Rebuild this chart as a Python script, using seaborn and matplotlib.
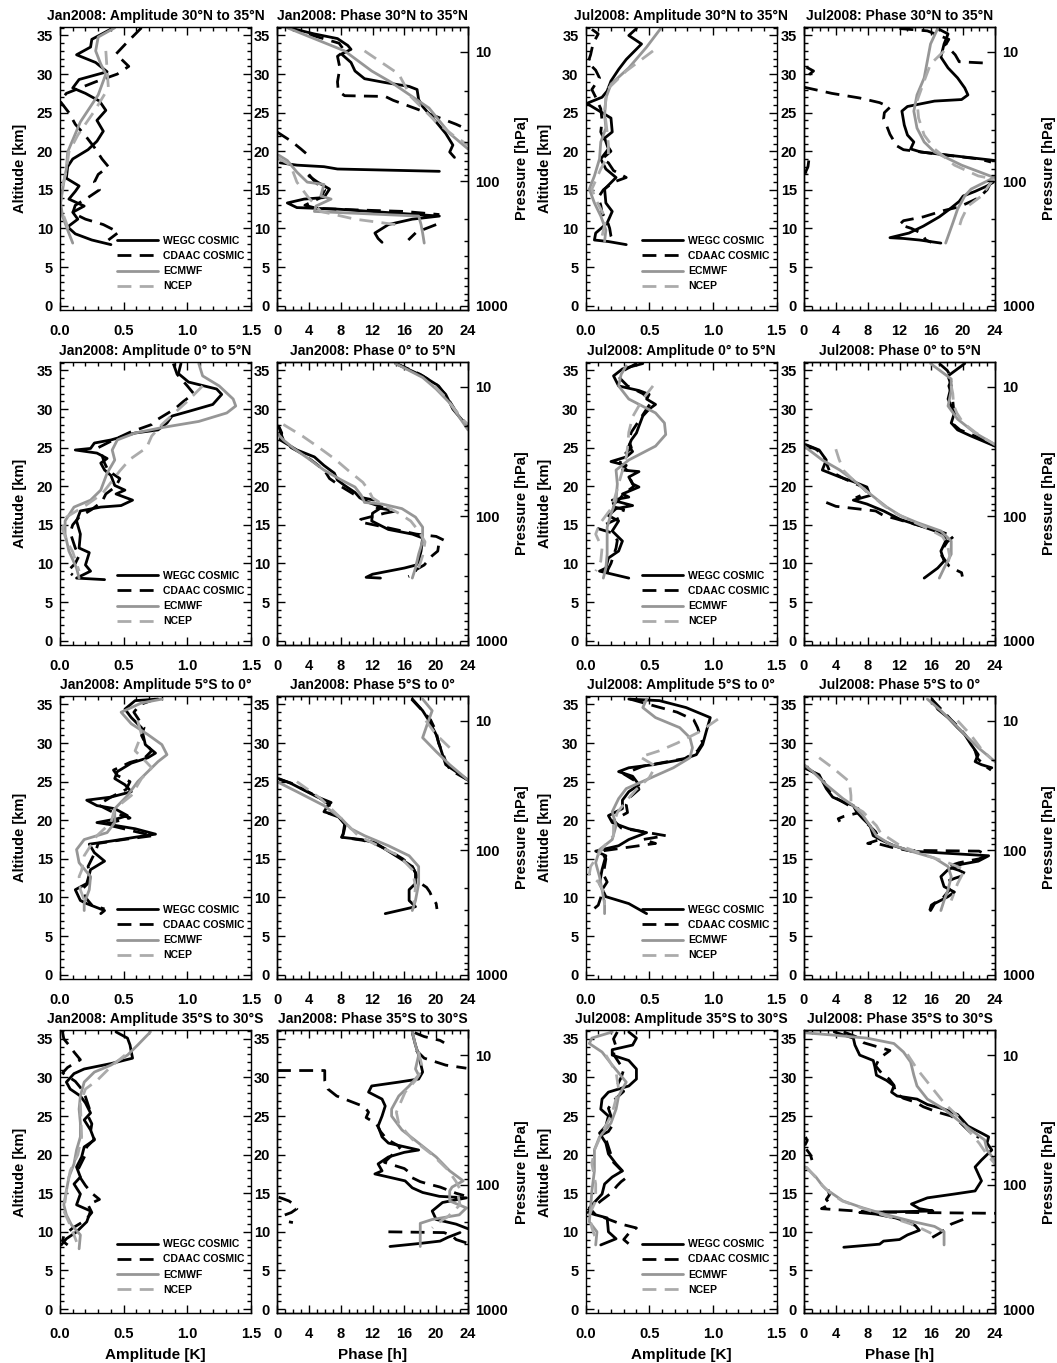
import numpy as np
import pandas as pd
import matplotlib
matplotlib.use("Agg")
import matplotlib.pyplot as plt
from matplotlib.lines import Line2D
from matplotlib.ticker import MultipleLocator, FixedLocator, FixedFormatter, FormatStrFormatter
import seaborn as sns

# Diurnal tide profiles: (altitude km, value) pairs, None = gap in the profile.
BRK = None

# ---------------- January 2008, 30N-35N ----------------
JAN_N30_AMP_WEGC = [(36.0,0.42),(34.5,0.25),(33.5,0.24),(32.5,0.13),(31.5,0.28),(30.3,0.37),(29.3,0.15),(28.2,0.10),(27.5,0.20),(26.5,0.31),(25.3,0.36),(24.0,0.29),(22.6,0.34),(21.3,0.29),(20.2,0.22),(19.0,0.10),(18.0,0.06),(16.5,0.05),(15.5,0.15),(14.8,0.12),(13.8,0.07),(12.9,0.19),(12.1,0.10),(11.2,0.14),(10.2,0.06),(9.3,0.12),(8.5,0.25),(7.9,0.40)]
JAN_N30_AMP_CDAAC = [(36.0,0.64),(34.0,0.52),(32.6,0.44),(31.0,0.54),(30.0,0.45),(29.0,0.28),(27.5,0.05),(26.5,0.0),(25.0,0.07),(23.5,0.12),(22.0,0.20),(20.5,0.27),(19.0,0.33),(18.0,0.38),(17.0,0.30),(16.0,0.27),(15.0,0.31),(14.0,0.22),(13.0,0.12),(12.0,0.10),(11.2,0.20),(10.5,0.34),(9.5,0.46),(8.5,0.38)]
JAN_N30_AMP_ECMWF = [(36.0,0.43),(34.8,0.30),(33.0,0.28),(31.3,0.32),(30.0,0.36),(27.3,0.30),(23.8,0.16),(19.9,0.06),(17.7,0.05),(16.0,0.03),(13.3,0.005),(11.6,0.02),(9.8,0.06),(8.1,0.10)]
JAN_N30_AMP_NCEP = [(33.0,0.36),(30.5,0.37),(28.2,0.38),(25.2,0.27),(22.1,0.14),(19.9,0.07),(17.5,0.05),(15.5,0.02),(12.9,0.0),(10.7,0.05),(9.0,0.08)]

JAN_N30_PHS_WEGC = [(36.0,1.5),(35.2,4.7),(34.6,7.6),(33.7,8.9),(33.2,9.3),(32.6,8.1),(31.5,9.3),(30.4,9.8),(29.4,11.0),(28.9,13.6),(28.4,16.6),(28.0,17.6),(26.7,17.8),(25.8,18.3),(23.8,20.0),(22.3,21.2),(20.8,22.1),(19.9,21.7),(19.2,22.3),BRK,(18.5,0.4),(18.2,2.5),(18.0,5.9),(17.7,7.6),(17.4,20.4),BRK,(16.8,4.0),(16.0,5.1),(15.1,6.6),(14.0,5.9),(13.8,3.4),(13.3,1.3),(12.7,2.5),(12.5,7.6),(11.6,20.4),(11.2,17.0),(10.5,14.0),(9.4,12.3),(8.7,12.7),(8.2,13.2)]
JAN_N30_PHS_CDAAC = [(36.0,1.5),(35.0,4.5),(34.0,7.8),(33.0,8.5),(32.3,7.6),(30.8,7.9),(29.0,7.6),(27.8,7.7),(27.2,8.5),(27.1,13.6),(26.6,14.6),(25.5,17.5),(24.5,20.0),(23.5,22.5),(22.8,24.0),BRK,(22.5,0.0),(21.3,1.8),(20.3,3.0),(19.5,3.9),BRK,(17.0,4.0),(16.0,4.8),(15.0,6.0),(14.0,5.5),(13.0,3.5),(12.6,5.0),(12.4,10.0),(12.2,16.0),(11.8,20.4),BRK,(10.5,20.0),(9.5,17.5),(8.5,16.5)]
JAN_N30_PHS_ECMWF = [(36.0,1.3),(33.0,8.5),(30.4,11.9),(28.9,14.4),(25.6,19.1),(22.3,21.7),(20.3,24.0),BRK,(19.5,0.2),(18.8,1.3),(17.3,2.5),(16.0,3.8),(15.7,5.9),(14.2,5.5),(13.8,6.8),(12.9,4.9),(12.2,4.7),(11.6,17.8),(10.5,18.1),(9.4,18.3),(8.1,18.5)]
JAN_N30_PHS_NCEP = [(33.0,11.0),(30.0,15.3),(27.1,16.8),(23.8,20.0),(22.1,22.1),(20.8,24.0),BRK,(19.2,0.0),(18.2,1.7),(16.0,2.5),(14.2,3.8),(12.2,5.5),(11.2,9.8),(10.5,14.9),(10.2,15.5)]

# ---------------- July 2008, 30N-35N ----------------
JUL_N30_AMP_WEGC = [(35.9,0.40),(35.0,0.34),(33.9,0.44),(31.9,0.32),(30.6,0.26),(29.1,0.20),(27.8,0.17),(27.0,0.13),(26.2,0.01),(25.2,0.11),(24.3,0.20),(22.5,0.21),(21.7,0.15),(20.3,0.18),(19.0,0.12),(17.7,0.16),(16.6,0.24),(15.1,0.15),(13.3,0.16),(12.2,0.21),(10.7,0.17),(9.4,0.08),(8.5,0.07),(8.3,0.18),(7.9,0.32)]
JUL_N30_AMP_CDAAC = [(35.8,0.05),(35.2,0.10),(34.0,0.06),(32.5,0.04),(31.5,0.02),(30.5,0.08),(29.5,0.11),(28.0,0.05),(27.0,0.08),(25.5,0.12),(24.0,0.13),(22.5,0.12),(21.0,0.16),(20.0,0.20),(19.0,0.13),(18.5,0.18),(17.5,0.22),(16.6,0.32),(16.0,0.22),(15.0,0.14),(14.0,0.10),(13.0,0.12),(12.0,0.13),(11.0,0.17),(10.0,0.19),(9.0,0.20),(8.3,0.22)]
JUL_N30_AMP_ECMWF = [(35.9,0.59),(33.5,0.48),(30.8,0.34),(28.7,0.20),(26.9,0.16),(24.7,0.15),(23.0,0.16),(21.2,0.12),(19.0,0.11),(16.8,0.07),(15.1,0.03),(13.3,0.07),(11.6,0.12),(9.8,0.16),(8.3,0.15)]
JUL_N30_AMP_NCEP = [(33.0,0.53),(30.4,0.32),(28.0,0.17),(25.2,0.15),(22.5,0.17),(20.8,0.18),(19.5,0.18),(17.7,0.12),(15.1,0.05),(13.8,0.08),(11.2,0.16),(9.0,0.13),(8.5,0.16)]

JUL_N30_PHS_WEGC = [(35.9,16.8),(35.2,18.1),(33.9,17.6),(32.2,17.2),(30.8,18.1),(29.5,19.3),(28.2,20.2),(27.3,20.6),(26.7,19.8),(26.5,16.4),(25.8,13.0),(25.2,12.3),(23.4,12.6),(22.1,13.0),(21.2,13.8),(20.3,13.4),(19.9,14.7),(18.8,24.0),BRK,(16.0,23.8),(15.5,23.0),(14.8,21.5),(14.2,20.0),(13.5,19.5),(12.5,18.3),(11.5,17.0),(10.3,15.0),(9.4,13.2),(8.8,10.8),(8.7,12.5),(8.5,14.5),(8.1,17.2)]
JUL_N30_PHS_CDAAC = [(35.9,12.0),(35.6,15.5),(34.5,18.2),(33.8,17.8),(32.5,19.0),(31.6,19.5),(31.4,23.3),BRK,(30.9,0.3),(30.4,1.2),(29.8,0.5),BRK,(28.3,0.0),(27.5,3.5),(26.9,7.0),(26.3,9.5),(25.7,10.8),(25.0,10.1),(24.2,10.0),(23.0,10.5),(22.2,10.8),(21.5,11.2),(20.8,11.5),(20.2,12.5),(19.6,17.0),(19.0,22.0),(18.6,23.5),BRK,(18.8,0.6),(18.0,0.5),(17.3,0.2),(16.5,0.4),BRK,(16.0,23.5),(15.0,23.0),(14.0,22.0),(13.5,21.0),(12.8,19.5),(12.3,17.5),(11.5,15.0),(11.0,12.5),(10.5,12.0),(10.0,13.5),(9.5,14.5),(9.0,15.0),(8.5,15.3),(8.2,16.0)]
JUL_N30_PHS_ECMWF = [(35.9,16.8),(33.9,15.9),(31.7,15.5),(29.5,15.1),(27.3,14.2),(25.2,13.8),(23.0,14.2),(21.2,15.1),(19.9,16.4),(18.2,19.8),(16.6,23.9),(15.1,21.0),(14.2,20.2),(12.5,19.3),(10.7,18.7),(8.1,17.8)]
JUL_N30_PHS_NCEP = [(33.0,17.6),(31.3,15.9),(29.1,15.1),(26.5,14.2),(24.3,14.4),(22.1,15.1),(20.3,16.4),(18.2,18.9),(16.8,21.9),(16.4,23.8),(14.2,22.3),(12.9,20.6),(11.2,19.8),(9.5,19.3)]

# ---------------- January 2008, 0-5N ----------------
JAN_N00_AMP_WEGC = [(35.9,0.95),(34.6,0.93),(33.5,1.01),(32.6,1.23),(31.9,1.27),(30.6,1.20),(29.7,1.01),(29.1,0.88),(28.2,0.84),(27.3,0.77),(26.9,0.59),(26.0,0.40),(25.6,0.27),(24.9,0.24),(24.7,0.12),(24.3,0.29),(23.6,0.37),(23.0,0.32),(22.1,0.35),(21.4,0.40),(20.1,0.43),(19.5,0.51),(19.0,0.44),(18.2,0.57),(17.5,0.48),(17.3,0.32),(16.8,0.16),(15.5,0.13),(13.8,0.16),(12.0,0.15),(11.4,0.23),(9.8,0.20),(9.0,0.24),(8.1,0.13),(7.9,0.35)]
JAN_N00_AMP_CDAAC = [(35.9,0.89),(34.5,0.92),(33.0,1.0),(32.0,1.05),(31.0,0.97),(30.0,0.90),(29.0,0.80),(28.5,0.75),(28.0,0.72),(27.0,0.55),(26.0,0.42),(25.0,0.30),(24.0,0.33),(23.0,0.35),(22.0,0.38),(21.0,0.47),(20.0,0.44),(19.0,0.36),(18.0,0.33),(17.0,0.25),(16.0,0.15),(15.0,0.10),(14.0,0.08),(13.0,0.10),(12.0,0.12),(11.0,0.15),(10.0,0.12),(9.0,0.06),(8.5,0.10)]
JAN_N00_AMP_ECMWF = [(35.9,1.09),(34.3,1.12),(33.0,1.25),(31.3,1.36),(30.4,1.38),(29.5,1.31),(28.4,1.09),(27.6,0.80),(26.9,0.59),(26.0,0.45),(24.7,0.41),(23.4,0.43),(21.7,0.37),(19.5,0.32),(18.2,0.24),(17.3,0.11),(15.5,0.04),(13.8,0.04),(11.6,0.07),(9.4,0.13),(8.1,0.15)]
JAN_N00_AMP_NCEP = [(33.0,1.12),(31.0,1.0),(29.5,0.90),(28.0,0.80),(26.5,0.72),(25.0,0.68),(23.5,0.55),(22.0,0.47),(20.5,0.40),(19.0,0.33),(17.5,0.20),(16.0,0.05),(14.5,0.02),(13.0,0.05),(11.5,0.10),(10.0,0.13),(9.0,0.15)]

JAN_N00_PHS_WEGC = [(35.9,14.9),(34.3,18.3),(33.2,20.0),(31.9,21.2),(30.0,22.1),(28.4,23.4),(27.8,24.0),BRK,(27.8,0.2),(26.9,0.6),(26.0,0.4),(24.7,2.5),(23.8,4.7),(22.7,5.9),(21.7,7.2),(20.8,7.6),(20.1,8.5),(19.2,9.8),(18.5,10.4),(17.9,11.5),(17.3,13.2),(16.5,12.0),(15.5,11.9),(14.4,14.0),(13.8,17.0),(13.3,18.3),(11.6,18.1),(10.3,17.8),(9.8,17.5),(9.4,16.0),(9.0,14.0),(8.6,12.0),(8.2,11.2),(8.1,13.0)]
JAN_N00_PHS_CDAAC = [(35.9,15.0),(34.5,18.0),(33.0,20.3),(31.5,21.4),(30.0,22.3),(28.5,23.3),(27.8,24.0),BRK,(27.6,0.3),(26.8,0.5),(26.0,0.8),(25.0,1.8),(24.2,3.2),(23.0,4.8),(22.0,6.0),(21.0,6.6),(20.0,8.0),(19.0,9.6),(18.5,10.8),(18.2,12.2),(17.6,12.0),(17.2,12.6),(16.8,15.0),(16.5,13.5),(15.7,10.5),(15.4,10.3),(14.6,14.0),(13.8,17.5),(13.5,20.0),(13.0,21.0),(12.3,20.3),(11.6,20.2),(11.0,19.5),(10.4,19.0),(9.8,18.5),(9.2,17.5),(8.6,17.2),(8.3,16.5)]
JAN_N00_PHS_ECMWF = [(35.9,14.9),(34.1,18.3),(32.6,20.0),(30.8,21.7),(27.3,24.0),BRK,(26.9,0.0),(26.0,0.8),(24.9,2.1),(23.4,4.2),(22.1,5.9),(20.8,8.1),(19.9,9.8),(18.8,10.6),(17.9,11.0),(17.7,13.2),(17.1,15.7),(16.0,17.4),(14.7,18.3),(12.9,18.3),(11.2,17.8),(9.4,17.4),(8.1,17.0)]
JAN_N00_PHS_NCEP = [(33.0,19.8),(31.5,21.2),(30.0,22.3),(28.5,23.5),(28.0,24.0),BRK,(28.0,0.8),(26.5,3.2),(25.0,5.3),(23.5,7.3),(22.0,9.0),(20.5,10.8),(19.5,11.5),(18.5,12.0),(17.5,13.5),(16.5,15.3),(15.5,16.8),(14.2,17.8),(12.8,18.6),(11.0,18.3),(9.4,17.8)]

# ---------------- July 2008, 0-5N ----------------
JUL_N00_AMP_WEGC = [(35.9,0.45),(35.2,0.29),(34.3,0.22),(33.0,0.26),(32.4,0.42),(31.9,0.50),(31.3,0.48),(30.6,0.55),(30.0,0.50),(29.1,0.45),(27.8,0.42),(26.9,0.40),(26.0,0.36),(25.2,0.34),(24.5,0.37),(23.8,0.32),(23.2,0.20),(22.7,0.32),(22.1,0.29),(21.9,0.42),(21.2,0.34),(20.3,0.37),(19.9,0.42),(19.0,0.29),(18.6,0.34),(18.2,0.21),(17.5,0.37),(17.1,0.24),(16.2,0.18),(15.5,0.26),(14.2,0.21),(12.9,0.29),(11.6,0.26),(10.7,0.18),(9.4,0.16),(9.0,0.11),(8.1,0.34)]
JUL_N00_AMP_CDAAC = [(35.9,0.40),(35.0,0.30),(34.0,0.27),(33.0,0.33),(32.0,0.45),(31.0,0.52),(30.0,0.48),(29.0,0.44),(28.0,0.40),(27.0,0.36),(26.0,0.34),(25.0,0.36),(24.0,0.30),(23.0,0.27),(22.0,0.33),(21.0,0.35),(20.0,0.38),(19.0,0.30),(18.0,0.25),(17.5,0.18),(17.0,0.30),(16.0,0.28),(15.0,0.15),(14.5,0.10),(14.0,0.20),(13.0,0.25),(12.0,0.24),(11.0,0.22),(10.0,0.20),(9.0,0.17),(8.3,0.22)]
JUL_N00_AMP_ECMWF = [(35.6,0.32),(34.5,0.28),(33.0,0.26),(31.3,0.34),(29.5,0.55),(28.2,0.62),(26.7,0.63),(25.2,0.55),(23.4,0.34),(22.1,0.24),(20.3,0.25),(18.2,0.24),(16.4,0.20),(14.7,0.17),(12.9,0.17),(11.2,0.17),(9.4,0.16),(8.1,0.14)]
JUL_N00_AMP_NCEP = [(33.0,0.53),(31.3,0.45),(29.0,0.37),(27.0,0.34),(25.0,0.33),(23.8,0.32),(22.0,0.29),(20.3,0.26),(17.3,0.21),(15.1,0.11),(13.8,0.08),(12.0,0.13),(10.3,0.12),(9.0,0.08)]

JUL_N00_PHS_WEGC = [(35.9,20.2),(34.3,18.1),(33.0,18.5),(31.3,18.1),(29.5,18.9),(28.2,18.5),(27.3,19.3),(26.5,21.0),(25.2,24.0),BRK,(25.4,0.2),(24.7,1.9),(23.4,2.8),(22.1,2.3),(21.2,4.5),(20.6,6.2),(19.9,7.9),(18.8,8.3),(18.2,6.2),(17.7,7.9),(16.8,10.0),(15.7,12.1),(14.7,15.1),(13.8,17.6),(12.9,17.8),(11.6,17.2),(10.3,17.6),(9.4,16.8),(8.1,15.1)]
JUL_N00_PHS_CDAAC = [(35.9,17.0),(35.0,18.0),(34.0,18.6),(33.0,18.2),(32.0,18.5),(31.0,18.7),(30.0,18.8),(29.0,19.0),(28.0,18.8),(27.3,19.6),(26.5,21.5),(25.5,23.5),(25.2,24.0),BRK,(25.3,0.3),(24.8,1.5),(24.0,2.5),(23.0,2.8),(22.0,3.2),(21.0,5.0),(20.0,7.2),(19.2,8.0),(18.5,6.5),BRK,(17.9,2.8),(17.4,4.0),(16.8,9.0),(16.2,10.0),(15.8,11.5),(15.2,13.5),(14.5,16.0),(14.0,17.5),(13.5,18.8),(12.8,18.0),(12.0,17.5),(11.0,17.3),(10.3,17.8),(9.7,18.2),(9.2,19.0),(8.8,19.8),(8.3,19.9)]
JUL_N00_PHS_ECMWF = [(35.9,15.9),(33.9,18.5),(32.4,18.5),(30.4,18.1),(28.7,19.3),(26.9,21.5),(25.4,24.0),BRK,(25.2,0.0),(23.4,2.3),(22.1,4.5),(20.8,6.2),(19.0,8.3),(17.3,10.4),(16.2,12.1),(15.3,14.2),(14.2,17.2),(12.9,18.5),(11.2,18.5),(9.4,17.6),(8.1,17.0)]
JUL_N00_PHS_NCEP = [(33.0,18.5),(32.0,18.7),(30.5,18.8),(29.5,19.2),(28.2,20.0),(27.0,21.5),(26.0,23.0),(25.4,24.0),BRK,(24.8,4.0),(23.5,4.4),(22.0,5.0),(20.5,6.5),(19.0,8.3),(17.5,10.0),(16.5,11.5),(15.5,13.5),(14.8,15.0),(14.0,16.5),(13.5,17.4),(12.5,18.0),(11.0,18.3),(9.5,18.0)]

# ---------------- January 2008, 5S-0 ----------------
JAN_S05_AMP_WEGC = [(35.7,0.77),(35.5,0.59),(34.4,0.51),(33.3,0.56),(32.0,0.64),(29.8,0.67),(28.7,0.75),(28.1,0.69),(27.4,0.56),(26.3,0.45),(25.4,0.43),(24.6,0.51),(23.7,0.56),(23.0,0.40),(22.6,0.21),(21.9,0.29),(21.5,0.43),(20.6,0.53),(20.2,0.45),(19.7,0.29),(19.5,0.37),(18.9,0.59),(18.2,0.75),(17.8,0.59),(17.3,0.40),(16.9,0.23),(15.8,0.27),(14.7,0.35),(13.6,0.24),(11.8,0.21),(11.0,0.12),(9.6,0.16),(9.2,0.21),(8.3,0.35),(7.9,0.32)]
JAN_S05_AMP_CDAAC = [(35.7,0.75),(35.0,0.63),(34.0,0.58),(33.0,0.62),(32.0,0.66),(31.0,0.64),(30.0,0.67),(29.0,0.72),(28.0,0.66),(27.5,0.55),(26.5,0.42),(25.8,0.45),(25.0,0.55),(24.0,0.52),(23.0,0.40),(22.0,0.30),(21.0,0.42),(20.3,0.55),(19.5,0.35),(18.5,0.60),(18.0,0.73),(17.5,0.50),(17.0,0.30),(16.0,0.28),(15.0,0.25),(14.0,0.22),(13.0,0.24),(12.0,0.23),(11.0,0.17),(10.0,0.20),(9.0,0.25),(8.5,0.35)]
JAN_S05_AMP_ECMWF = [(35.7,0.80),(35.2,0.64),(34.0,0.48),(32.5,0.56),(31.1,0.69),(29.8,0.80),(28.5,0.84),(27.6,0.77),(26.3,0.69),(25.0,0.61),(23.2,0.53),(21.5,0.43),(19.7,0.43),(18.4,0.37),(17.5,0.19),(16.2,0.13),(14.5,0.15),(12.7,0.24),(11.0,0.23),(9.2,0.19),(8.3,0.19)]
JAN_S05_AMP_NCEP = [(32.9,0.61),(31.1,0.64),(29.0,0.59),(27.5,0.68),(26.8,0.72),(25.4,0.64),(23.2,0.56),(21.5,0.43),(19.7,0.40),(18.0,0.29),(15.4,0.19),(13.5,0.17),(12.7,0.15),(11.0,0.16),(9.2,0.20)]

JAN_S05_PHS_WEGC = [(35.7,17.0),(34.2,18.3),(32.9,19.1),(31.1,20.0),(29.8,20.4),(28.5,20.8),(27.2,21.2),(26.3,22.5),(25.2,24.0),BRK,(25.4,0.2),(24.8,1.7),(23.9,3.4),(23.0,5.1),(22.3,6.8),(21.9,6.4),(21.1,5.9),(20.6,7.6),(19.5,8.5),(18.2,8.3),(17.8,8.1),(17.5,10.6),(17.1,12.3),(16.0,14.0),(14.9,15.7),(14.0,17.0),(13.2,17.4),(11.8,17.4),(11.0,16.6),(9.6,16.6),(8.8,17.4),(7.9,13.6)]
JAN_S05_PHS_CDAAC = [(35.7,16.9),(34.5,18.0),(33.0,19.3),(31.5,20.0),(30.0,20.3),(28.5,20.9),(27.3,21.3),(26.5,21.8),(25.5,23.5),(25.2,24.0),BRK,(25.3,0.3),(24.8,1.8),(24.0,3.3),(23.0,5.2),(22.0,6.6),(21.0,6.2),(20.4,7.8),(19.5,8.6),(18.5,8.4),(17.8,8.2),(17.4,10.8),(17.0,12.2),(16.0,14.2),(15.0,15.8),(14.0,17.0),(13.0,17.5),(12.0,17.8),(11.3,18.8),(10.7,19.2),(10.0,19.5),(9.2,20.0),(8.5,20.1)]
JAN_S05_PHS_ECMWF = [(35.7,18.3),(34.2,19.5),(32.5,18.9),(30.7,18.3),(28.9,20.0),(27.2,21.7),(25.2,24.0),BRK,(25.0,0.0),(23.7,2.5),(21.9,5.9),(20.2,8.1),(18.9,9.3),(18.0,11.0),(16.7,14.0),(15.4,16.6),(14.0,17.8),(11.8,17.8),(9.6,17.4),(8.3,17.0)]
JAN_S05_PHS_NCEP = [(32.9,18.7),(31.1,20.0),(29.4,21.7),BRK,(25.0,2.5),(22.8,5.5),(20.2,8.1),(18.0,10.2),(16.7,12.7),(15.4,15.3),(13.6,17.0),(11.4,17.4),(9.2,17.2)]

# ---------------- July 2008, 5S-0 ----------------
JUL_S05_AMP_WEGC = [(35.7,0.34),(35.5,0.58),(34.6,0.79),(33.3,0.98),(31.6,0.95),(29.8,0.92),(28.5,0.87),(27.9,0.77),(27.2,0.53),(26.8,0.34),(26.3,0.26),(25.7,0.37),(24.6,0.42),(23.7,0.34),(22.6,0.29),(21.5,0.29),(20.6,0.18),(19.7,0.21),(18.9,0.34),(18.4,0.48),(17.5,0.34),(16.7,0.26),(16.0,0.08),(15.4,0.16),(13.6,0.13),(11.8,0.11),(10.1,0.16),(9.2,0.34),(7.9,0.48)]
JUL_S05_AMP_CDAAC = [(35.7,0.35),(35.0,0.50),(34.0,0.72),(33.0,0.85),(32.0,0.88),(31.0,0.90),(30.0,0.92),(29.0,0.88),(28.0,0.78),(27.0,0.45),(26.0,0.30),(25.0,0.40),(24.0,0.42),(23.0,0.35),(22.0,0.32),(21.0,0.33),(20.0,0.22),(19.0,0.28),(18.0,0.63),(17.5,0.45),(17.0,0.55),(16.0,0.12),(15.0,0.16),(14.0,0.15),(13.0,0.14),(12.0,0.17),(11.0,0.13),(10.0,0.12),(9.0,0.10),(8.3,0.05)]
JUL_S05_AMP_ECMWF = [(35.7,0.48),(34.6,0.45),(33.3,0.55),(32.0,0.74),(30.7,0.82),(29.4,0.84),(28.1,0.82),(26.8,0.69),(25.4,0.50),(24.1,0.32),(22.8,0.26),(21.1,0.21),(19.3,0.24),(17.5,0.21),(16.2,0.11),(14.5,0.08),(12.7,0.11),(11.0,0.13),(9.2,0.15),(7.9,0.15)]
JUL_S05_AMP_NCEP = [(33.1,1.04),(31.5,0.90),(30.0,0.72),(29.0,0.58),(28.2,0.43),(27.0,0.55),(25.5,0.50),(24.0,0.40),(22.5,0.32),(21.0,0.25),(19.5,0.22),(18.0,0.22),(16.5,0.14),(15.0,0.08),(14.0,0.04),(13.0,0.03),(12.0,0.10),(10.5,0.15),(9.0,0.15)]

JUL_S05_PHS_WEGC = [(35.7,16.1),(34.4,16.8),(33.3,18.1),(32.0,19.3),(31.1,20.2),(29.8,21.0),(28.5,21.9),(27.6,21.5),(27.2,22.3),(26.8,23.6),BRK,(26.8,0.0),(25.9,1.9),(24.1,2.8),(23.0,3.6),(22.4,4.9),(21.9,6.2),(21.1,6.6),(20.2,7.4),(19.3,8.3),(18.0,8.7),(17.5,9.6),(16.7,11.3),(16.0,13.4),(15.4,23.2),(14.7,21.9),(14.3,19.8),(13.6,18.1),(12.7,17.2),(11.4,17.6),(10.7,18.9),(10.1,18.1),(9.2,16.4),(8.3,15.9)]
JUL_S05_PHS_CDAAC = [(35.7,16.0),(35.2,16.5),(34.0,17.6),(33.0,18.5),(32.0,19.5),(31.0,20.3),(30.0,21.0),(29.0,21.5),(28.0,21.8),(27.0,22.8),(26.5,23.5),BRK,(26.9,0.2),(26.0,1.5),(25.0,2.5),(24.0,3.0),(23.0,3.8),(22.0,5.5),(21.5,6.8),(21.0,7.0),(20.5,5.0),(20.2,4.3),(19.8,4.5),BRK,(19.5,8.0),(18.5,9.0),(17.5,9.5),(17.0,8.0),(16.9,9.5),(16.5,11.0),(16.1,13.0),(16.0,22.0),(15.5,23.0),(15.0,22.0),(14.5,19.5),(14.0,18.0),(13.5,19.5),(13.0,20.5),(12.5,19.0),(12.0,17.8),(11.0,18.3),(10.0,17.5),(9.0,16.0),(8.3,15.8)]
JUL_S05_PHS_ECMWF = [(35.7,15.5),(34.2,17.2),(32.5,18.9),(30.7,20.6),(29.4,21.9),(27.6,24.0),BRK,(27.2,0.0),(26.3,1.1),(24.6,2.8),(22.8,4.9),(21.9,6.2),(20.6,7.4),(19.3,8.3),(18.0,9.1),(16.9,10.8),(16.0,13.4),(15.1,16.4),(14.0,18.1),(12.7,18.5),(11.0,18.1),(9.6,17.6),(8.3,17.2)]
JUL_S05_PHS_NCEP = [(32.9,19.3),(31.0,21.0),(29.2,22.3),(28.0,23.5),BRK,(28.1,1.9),(26.8,3.6),(25.0,5.7),(23.2,5.9),(22.0,5.9),(21.1,7.4),(19.3,9.1),(18.4,9.6),(16.7,12.1),(15.4,15.5),(14.5,18.1),(13.6,20.2),(11.8,19.3),(9.6,18.5)]

# ---------------- January 2008, 35S-30S ----------------
JAN_S35_AMP_WEGC = [(35.9,0.44),(35.1,0.53),(34.2,0.55),(33.3,0.56),(32.5,0.57),(31.8,0.40),(31.1,0.19),(30.5,0.11),(29.4,0.05),(28.5,0.08),(27.6,0.16),(26.7,0.20),(25.4,0.24),(24.5,0.19),(23.2,0.24),(21.9,0.27),(21.0,0.19),(19.7,0.17),(18.4,0.13),(17.1,0.16),(16.2,0.11),(14.9,0.16),(13.5,0.13),(12.7,0.24),(11.3,0.21),(10.0,0.13),(9.1,0.05),(8.3,0.01)]
JAN_S35_AMP_CDAAC = [(35.9,0.02),(35.0,0.03),(34.0,0.08),(33.3,0.11),(32.3,0.16),(31.3,0.06),(30.6,0.02),(29.5,0.12),(28.7,0.16),(27.5,0.20),(26.0,0.23),(25.0,0.22),(24.0,0.25),(23.0,0.24),(22.0,0.27),(21.0,0.21),(20.0,0.20),(19.0,0.17),(18.0,0.14),(17.0,0.16),(16.0,0.20),(15.0,0.25),(14.2,0.31),(13.5,0.22),(12.5,0.25),(11.5,0.20),(10.5,0.10),(9.5,0.03),(8.8,0.02),(8.3,0.06)]
JAN_S35_AMP_ECMWF = [(35.9,0.71),(34.2,0.61),(32.9,0.53),(31.6,0.40),(30.7,0.27),(29.4,0.19),(27.6,0.16),(25.9,0.15),(24.1,0.16),(22.3,0.16),(20.6,0.13),(18.8,0.11),(17.1,0.07),(15.3,0.05),(13.5,0.03),(12.2,0.05),(10.9,0.09),(9.6,0.16),(7.8,0.15)]
JAN_S35_AMP_NCEP = [(32.9,0.51),(31.4,0.40),(29.6,0.29),(28.5,0.20),(26.7,0.16),(22.3,0.17),(20.0,0.14),(17.9,0.08),(15.3,0.05),(12.7,0.03),(10.5,0.09),(8.7,0.13)]

JAN_S35_PHS_WEGC = [(35.8,17.0),(34.2,17.4),(32.9,17.8),(30.7,18.3),(29.8,17.8),(29.4,15.3),(28.9,11.9),(28.1,11.5),(27.2,13.2),(26.3,13.6),(25.0,13.2),(23.7,12.7),(22.3,13.2),(21.5,14.0),(21.0,16.1),(20.6,17.8),(20.3,16.0),(19.7,14.0),(18.8,12.7),(17.9,13.2),(17.5,12.3),(17.1,14.0),(16.6,16.1),(15.7,17.0),(15.1,18.3),(14.6,20.4),(14.4,23.8),(13.8,20.8),(12.7,19.5),(11.6,20.0),(11.0,22.5),(10.4,24.0),BRK,(9.9,23.0),(9.3,21.5),(8.8,20.5),(8.5,18.0),(8.1,14.2)]
JAN_S35_PHS_CDAAC = [(35.8,17.3),(35.3,18.5),(34.8,20.5),(34.5,21.0),BRK,(33.5,17.5),(32.5,18.5),(31.6,21.2),(31.2,23.8),BRK,(30.9,0.0),(30.9,6.0),(29.6,6.0),(28.5,6.4),(27.6,7.5),(26.8,9.5),(26.2,11.0),(25.5,11.5),(24.8,11.2),(24.0,12.5),(23.0,13.0),(22.0,13.8),(21.0,15.5),(20.0,14.5),(19.0,13.5),(18.2,16.0),(17.8,16.5),(17.0,17.0),(16.5,18.0),(16.2,19.0),(15.8,20.5),(15.4,21.5),(15.0,22.5),(14.7,23.5),BRK,(14.5,0.2),(14.0,1.5),(13.5,2.2),(13.0,2.5),(12.5,1.8),(12.0,0.5),(11.8,0.1),BRK,(11.3,1.5),(11.2,2.0),BRK,(10.0,14.0),(9.9,21.0),(9.5,22.0),(9.0,22.5),(8.5,24.0)]
JAN_S35_PHS_ECMWF = [(35.9,17.0),(34.2,17.4),(32.9,17.8),(31.1,17.4),(30.3,17.8),(28.9,16.6),(27.6,15.3),(25.9,14.4),(25.0,14.4),(23.2,15.7),(21.5,17.8),(19.7,20.0),(17.9,21.7),(16.6,23.4),(15.8,22.0),(15.3,21.7),(14.0,21.7),(13.1,23.8),(12.2,22.9),(11.6,19.5),(11.1,18.0),(9.6,18.0),(8.1,18.0)]
JAN_S35_PHS_NCEP = [(33.3,17.8),(31.1,18.3),(29.6,17.4),(28.1,16.1),(25.5,15.0),(24.0,15.3),(22.0,17.0),(20.0,19.5),(18.0,21.5),(16.5,22.5),(15.5,23.0),(14.5,22.8),(13.5,23.0),(12.0,21.5),(11.0,20.0),(10.5,19.5)]

# ---------------- July 2008, 35S-30S ----------------
JUL_S35_AMP_WEGC = [(35.9,0.34),(35.1,0.40),(34.2,0.37),(33.6,0.21),(32.9,0.21),(32.2,0.34),(31.1,0.40),(29.8,0.40),(28.9,0.34),(28.1,0.18),(27.2,0.13),(25.9,0.12),(25.0,0.18),(23.7,0.16),(22.8,0.11),(21.5,0.16),(20.1,0.18),(18.8,0.24),(17.9,0.29),(17.1,0.21),(16.2,0.15),(14.9,0.13),(14.0,0.08),(13.1,0.03),(12.2,0.08),(11.8,0.17),(10.0,0.18),(9.1,0.24),(8.3,0.12)]
JUL_S35_AMP_CDAAC = [(35.9,0.25),(35.0,0.22),(34.0,0.24),(33.0,0.22),(32.0,0.26),(31.0,0.30),(30.0,0.28),(29.0,0.25),(28.2,0.30),(27.0,0.22),(26.0,0.18),(25.0,0.20),(24.0,0.22),(23.0,0.18),(22.5,0.12),(22.0,0.16),(21.0,0.18),(20.0,0.20),(19.0,0.22),(18.0,0.28),(17.0,0.32),(16.5,0.28),(16.0,0.25),(15.0,0.20),(14.0,0.12),(13.0,0.05),(12.5,0.02),(12.0,0.12),(11.0,0.28),(10.5,0.40),(10.0,0.35),(9.0,0.30),(8.3,0.35)]
JUL_S35_AMP_ECMWF = [(35.9,0.21),(35.1,0.05),(34.4,0.03),(33.3,0.13),(31.6,0.21),(29.4,0.32),(27.6,0.26),(25.9,0.24),(24.1,0.20),(22.3,0.11),(20.6,0.07),(17.9,0.07),(15.3,0.05),(13.1,0.04),(11.3,0.03),(10.0,0.09),(8.3,0.08)]
JUL_S35_AMP_NCEP = [(32.9,0.16),(30.7,0.24),(28.5,0.26),(25.4,0.21),(22.8,0.13),(20.6,0.07),(18.8,0.05),(16.2,0.08),(14.0,0.08),(12.2,0.03),(10.5,0.05),(9.1,0.08)]

JUL_S35_PHS_WEGC = [(35.9,3.8),(35.1,6.2),(34.2,6.4),(32.9,7.0),(32.2,8.7),(31.4,8.9),(30.3,9.1),(29.6,10.4),(28.9,11.3),(28.1,11.0),(27.6,11.7),(27.2,14.2),(26.5,15.5),(25.9,17.6),(25.2,19.3),(23.7,20.6),(22.8,22.3),(22.3,23.2),(21.5,23.0),(20.6,23.6),(19.3,22.3),(18.4,21.5),(17.5,21.9),(16.6,22.3),(15.3,21.5),(14.9,18.9),(14.4,15.5),(13.6,13.5),(13.0,14.5),(12.7,16.2),(12.5,7.0),(12.3,9.0),(11.8,11.5),(11.3,13.0),(10.8,14.0),(10.2,14.5),(9.6,13.0),(9.0,12.0),(8.8,10.0),(8.4,9.5),(8.0,5.0)]
JUL_S35_PHS_CDAAC = [(35.9,5.0),(35.3,6.5),(34.5,7.5),(33.5,10.8),(32.5,9.5),(31.5,9.0),(30.5,9.8),(29.8,10.7),(29.0,11.3),(28.0,11.5),(27.3,12.5),(26.8,14.0),(26.2,15.0),(25.5,16.8),(25.0,18.5),(24.3,19.5),(23.5,20.3),(22.8,21.0),(22.2,22.0),BRK,(22.3,0.2),(21.8,0.4),(21.2,0.1),BRK,(20.7,0.3),(20.0,0.8),(19.3,1.0),BRK,(15.5,3.0),(14.8,3.2),(14.2,2.8),(13.6,3.3),(13.0,2.2),(12.6,8.0),(12.5,14.0),(12.4,24.0),BRK,(11.6,20.0),(11.0,18.5),(10.5,18.0),(9.8,17.0),(9.2,16.0),(8.5,15.5)]
JUL_S35_PHS_ECMWF = [(35.8,0.0),(35.5,3.6),(35.1,7.9),(34.4,11.3),(33.3,12.5),(32.0,13.4),(30.3,13.8),(28.9,14.2),(27.2,15.5),(25.9,17.6),(24.1,19.8),(22.8,21.5),(21.9,22.7),(20.6,23.0),(19.5,23.8),(18.8,24.0),BRK,(18.4,0.2),(17.1,1.5),(16.0,2.3),(15.5,2.8),(14.0,4.9),(13.1,7.4),(12.2,10.4),(11.3,13.8),(10.7,16.4),(10.0,17.6),(8.3,17.6)]
JUL_S35_PHS_NCEP = [(33.0,13.0),(31.1,14.2),(28.9,15.9),(26.7,17.6),(25.0,19.3),(23.2,20.6),(21.5,22.0),(20.0,23.0),(18.8,24.0),BRK,(18.4,0.3),(17.0,1.5),(15.8,2.5),(15.0,3.3),(14.0,4.8),(13.0,7.5),(12.0,10.5),(11.0,13.5),(10.3,15.0),(9.8,16.0)]

# ---------------- panel organisation ----------------
SOURCES = ["WEGC COSMIC", "CDAAC COSMIC", "ECMWF", "NCEP"]
MONTHS = ["Jan2008", "Jul2008"]
BANDS = ["30°N to 35°N", "0° to 5°N", "5°S to 0°", "35°S to 30°S"]

AMPLITUDE = {
    (0, 0): [JAN_N30_AMP_WEGC, JAN_N30_AMP_CDAAC, JAN_N30_AMP_ECMWF, JAN_N30_AMP_NCEP],
    (1, 0): [JUL_N30_AMP_WEGC, JUL_N30_AMP_CDAAC, JUL_N30_AMP_ECMWF, JUL_N30_AMP_NCEP],
    (0, 1): [JAN_N00_AMP_WEGC, JAN_N00_AMP_CDAAC, JAN_N00_AMP_ECMWF, JAN_N00_AMP_NCEP],
    (1, 1): [JUL_N00_AMP_WEGC, JUL_N00_AMP_CDAAC, JUL_N00_AMP_ECMWF, JUL_N00_AMP_NCEP],
    (0, 2): [JAN_S05_AMP_WEGC, JAN_S05_AMP_CDAAC, JAN_S05_AMP_ECMWF, JAN_S05_AMP_NCEP],
    (1, 2): [JUL_S05_AMP_WEGC, JUL_S05_AMP_CDAAC, JUL_S05_AMP_ECMWF, JUL_S05_AMP_NCEP],
    (0, 3): [JAN_S35_AMP_WEGC, JAN_S35_AMP_CDAAC, JAN_S35_AMP_ECMWF, JAN_S35_AMP_NCEP],
    (1, 3): [JUL_S35_AMP_WEGC, JUL_S35_AMP_CDAAC, JUL_S35_AMP_ECMWF, JUL_S35_AMP_NCEP],
}
PHASE = {
    (0, 0): [JAN_N30_PHS_WEGC, JAN_N30_PHS_CDAAC, JAN_N30_PHS_ECMWF, JAN_N30_PHS_NCEP],
    (1, 0): [JUL_N30_PHS_WEGC, JUL_N30_PHS_CDAAC, JUL_N30_PHS_ECMWF, JUL_N30_PHS_NCEP],
    (0, 1): [JAN_N00_PHS_WEGC, JAN_N00_PHS_CDAAC, JAN_N00_PHS_ECMWF, JAN_N00_PHS_NCEP],
    (1, 1): [JUL_N00_PHS_WEGC, JUL_N00_PHS_CDAAC, JUL_N00_PHS_ECMWF, JUL_N00_PHS_NCEP],
    (0, 2): [JAN_S05_PHS_WEGC, JAN_S05_PHS_CDAAC, JAN_S05_PHS_ECMWF, JAN_S05_PHS_NCEP],
    (1, 2): [JUL_S05_PHS_WEGC, JUL_S05_PHS_CDAAC, JUL_S05_PHS_ECMWF, JUL_S05_PHS_NCEP],
    (0, 3): [JAN_S35_PHS_WEGC, JAN_S35_PHS_CDAAC, JAN_S35_PHS_ECMWF, JAN_S35_PHS_NCEP],
    (1, 3): [JUL_S35_PHS_WEGC, JUL_S35_PHS_CDAAC, JUL_S35_PHS_ECMWF, JUL_S35_PHS_NCEP],
}

# reference atmosphere used for the pressure axis (log10 hPa -> km)
REF_LOG_P = [1.0, 2.0, 3.0]
REF_ALT = [32.9, 16.1, 0.0]
P_MAJOR = [10, 100, 1000]
P_MINOR = [20, 30, 40, 50, 60, 70, 80, 90, 200, 300, 400, 500, 600, 700, 800, 900]

# ---------------- style ----------------
COLORS = {"WEGC COSMIC": "#000000", "CDAAC COSMIC": "#000000", "ECMWF": "#969696", "NCEP": "#ababab"}
DASH = (5.0, 3.0)
DASHES = {"WEGC COSMIC": "", "CDAAC COSMIC": DASH, "ECMWF": "", "NCEP": DASH}
LW = 2.0

sns.set_theme(style="white", rc={
    "axes.edgecolor": "black", "axes.linewidth": 1.0,
    "xtick.color": "black", "ytick.color": "black",
    "text.color": "black", "axes.labelcolor": "black",
})
plt.rcParams["font.family"] = ["Liberation Sans", "DejaVu Sans"]
plt.rcParams["font.weight"] = "bold"
plt.rcParams["axes.titleweight"] = "bold"
plt.rcParams["axes.labelweight"] = "bold"

FIG_W, FIG_H = 1057, 1363
COL_LEFT = [60.0, 277.0, 585.5, 804.0]
ROW_TOP = [27.0, 362.0, 696.0, 1030.4]
AX_W, AX_H = 191.0, 283.0
YLIM = (-0.57, 36.1)

fig = plt.figure(figsize=(FIG_W / 100, FIG_H / 100), dpi=100)
fig.patch.set_facecolor("white")


def new_axes(col, row):
    return fig.add_axes([COL_LEFT[col] / FIG_W, 1 - (ROW_TOP[row] + AX_H) / FIG_H,
                         AX_W / FIG_W, AX_H / FIG_H])


def profiles_frame(series_list):
    rows = []
    for src, pts in zip(SOURCES, series_list):
        seg = 0
        for p in pts:
            if p is None:
                seg += 1
                continue
            rows.append({"source": src, "unit": f"{src}#{seg}", "alt": p[0], "val": p[1]})
    return pd.DataFrame(rows)


def draw_profiles(ax, series_list):
    df = profiles_frame(series_list)
    sns.lineplot(data=df, x="val", y="alt", hue="source", style="source", units="unit",
                 estimator=None, sort=False, hue_order=SOURCES, style_order=SOURCES,
                 palette=COLORS, dashes=DASHES, linewidth=LW, legend=False, ax=ax)
    ax.set_xlabel("")
    ax.set_ylabel("")


def style_axes(ax, kind):
    ax.set_ylim(*YLIM)
    ax.yaxis.set_major_locator(MultipleLocator(5))
    ax.yaxis.set_minor_locator(MultipleLocator(1))
    if kind == "amp":
        ax.set_xlim(0, 1.5)
        ax.xaxis.set_major_locator(MultipleLocator(0.5))
        ax.xaxis.set_minor_locator(MultipleLocator(0.1))
        ax.xaxis.set_major_formatter(FormatStrFormatter("%.1f"))
    else:
        ax.set_xlim(0, 24)
        ax.xaxis.set_major_locator(MultipleLocator(4))
        ax.xaxis.set_minor_locator(MultipleLocator(1))
    ax.tick_params(which="both", direction="in", bottom=True, top=True, left=True,
                   right=(kind == "amp"), width=1.0, colors="black")
    ax.tick_params(which="major", length=5.5)
    ax.tick_params(which="minor", length=2.8)
    ax.tick_params(axis="x", which="major", labelsize=10.5, pad=10)
    ax.tick_params(axis="y", which="major", labelsize=10.5, pad=5)
    for s in ax.spines.values():
        s.set_visible(True)
        s.set_color("black")
        s.set_linewidth(1.0)
    ax.set_facecolor("white")


def pressure_axis(ax):
    tw = ax.twinx()
    tw.set_ylim(*YLIM)
    major_alt = np.interp(np.log10(P_MAJOR), REF_LOG_P, REF_ALT)
    minor_alt = np.interp(np.log10(P_MINOR), REF_LOG_P, REF_ALT)
    tw.yaxis.set_major_locator(FixedLocator(major_alt))
    tw.yaxis.set_major_formatter(FixedFormatter([str(p) for p in P_MAJOR]))
    tw.yaxis.set_minor_locator(FixedLocator(minor_alt))
    tw.tick_params(axis="y", which="both", direction="in", left=False, right=True,
                   width=1.0, colors="black")
    tw.tick_params(axis="y", which="major", length=5.5, labelsize=10.5, pad=5)
    tw.tick_params(axis="y", which="minor", length=2.8)
    tw.grid(False)
    tw.set_ylabel("Pressure [hPa]", fontsize=10.5, fontweight="bold", rotation=90)
    tw.yaxis.set_label_coords(1.245, 0.5)
    tw.yaxis.label.set_va("top")
    for s in tw.spines.values():
        s.set_color("black")
        s.set_linewidth(1.0)
    return tw


legend_handles = [
    Line2D([], [], color=COLORS[s], lw=LW,
           linestyle=(0, DASHES[s]) if DASHES[s] else "-") for s in SOURCES
]

for m, month in enumerate(MONTHS):
    for r, band in enumerate(BANDS):
        ax_a = new_axes(2 * m, r)
        draw_profiles(ax_a, AMPLITUDE[(m, r)])
        style_axes(ax_a, "amp")
        ax_a.set_title(f"{month}: Amplitude {band}", fontsize=10, fontweight="bold", pad=5)
        ax_a.set_ylabel("Altitude [km]", fontsize=10.5, fontweight="bold")
        ax_a.yaxis.set_label_coords(-0.175, 0.5)
        ax_a.legend(legend_handles, SOURCES, loc="upper left", bbox_to_anchor=(0.298, 0.262),
                    frameon=False, fontsize=7.5, handlelength=3.9, handletextpad=0.5,
                    labelspacing=0.5, borderpad=0, borderaxespad=0,
                    prop={"weight": "bold", "size": 7.5})

        ax_p = new_axes(2 * m + 1, r)
        draw_profiles(ax_p, PHASE[(m, r)])
        style_axes(ax_p, "phase")
        ax_p.set_title(f"{month}: Phase {band}", fontsize=10, fontweight="bold", pad=5)
        pressure_axis(ax_p)

        if r == len(BANDS) - 1:
            ax_a.set_xlabel("Amplitude [K]", fontsize=11, fontweight="bold")
            ax_p.set_xlabel("Phase [h]", fontsize=11, fontweight="bold")
            ax_a.xaxis.set_label_coords(0.5, -0.122)
            ax_p.xaxis.set_label_coords(0.5, -0.122)

fig.savefig("out.png", dpi=100, facecolor="white")
